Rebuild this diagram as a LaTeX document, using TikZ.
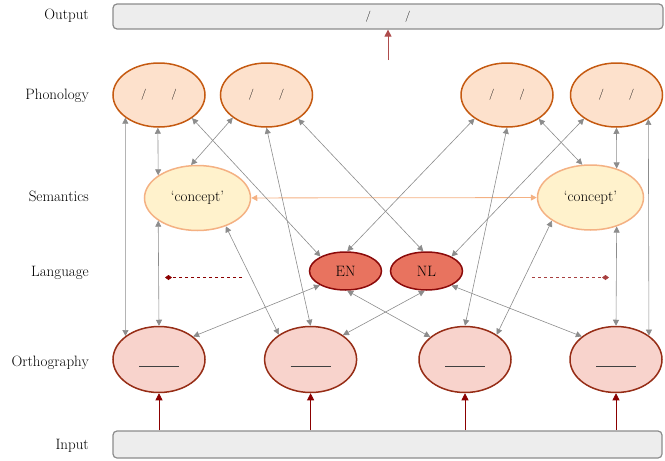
\documentclass[tikz,border=0pt]{standalone}
\usepackage{tikz}
\usetikzlibrary{arrows.meta, positioning, shapes}

\definecolor{phonfill}{HTML}{FDE1CC}
\definecolor{phondraw}{HTML}{C55A11}
\definecolor{semfill}{HTML}{FFF2CC}
\definecolor{semdraw}{HTML}{F4B183}
\definecolor{langfill}{HTML}{E8735F}
\definecolor{langdraw}{HTML}{8B0A0A}
\definecolor{orthfill}{HTML}{F8D3CC}
\definecolor{orthdraw}{HTML}{962D16}
\definecolor{boxfill}{HTML}{EDEDED}
\definecolor{boxdraw}{HTML}{8C8C8C}
\definecolor{linkgray}{HTML}{8C8C8C}
\definecolor{feedred}{HTML}{8B0000}

\newcommand{\ipaslots}[1]{{\fontsize{11}{13}\selectfont /\hspace{#1}/}}
\newcommand{\spelling}{\raisebox{-7pt}[0pt][0pt]{\color{black!75}\rule{40pt}{0.7pt}}}

\begin{document}
\begin{tikzpicture}[x=1pt, y=-1pt, font=\fontsize{15}{18}\selectfont]
            \tikzset{unit/.style={ellipse, inner sep=0pt, line width=1.5pt},
              phonode/.style={unit, draw=phondraw, fill=phonfill, minimum width=92pt, minimum height=64pt},
              semnode/.style={unit, draw=semdraw, fill=semfill, minimum width=106pt, minimum height=65pt},
              langnode/.style={unit, draw=langdraw, fill=langfill, minimum width=72pt, minimum height=38pt},
              orthnode/.style={unit, draw=orthdraw, fill=orthfill, minimum width=92pt, minimum height=66pt},
              layerbox/.style={rectangle, rounded corners=4pt, draw=boxdraw, fill=boxfill, line width=1.2pt, inner sep=0pt},
              layer/.style={anchor=east, inner sep=0pt, text height=10pt, text depth=3pt},
              link/.style={linkgray, line width=0.6pt, {Triangle[length=6pt,width=6pt]}-{Triangle[length=6pt,width=6pt]}},
              feed/.style={feedred, line width=0.8pt, -{Triangle[length=7pt,width=7pt]}},
              inhib/.style={feedred, dashed, line width=0.8pt, -{Diamond[length=7pt,width=5pt]}}}
            \useasboundingbox (0,0) rectangle (665,461);

            % layer names
            \node[layer] (lOut) at (89,16) {Output};
            \node[layer] (lPhon) at (89,96) {Phonology};
            \node[layer] (lSem) at (89,198) {Semantics};
            \node[layer] (lLang) at (89,273) {Language};
            \node[layer] (lOrth) at (89,363) {Orthography};
            \node[layer] (lIn) at (89,446) {Input};

            \node[layerbox, minimum width=550pt, minimum height=25pt] (out) at (388,16.5) {\ipaslots{34pt}};
            \node[layerbox, minimum width=549pt, minimum height=27pt] (in) at (387.5,444.5) {};

            \node[phonode] (P1) at (159,95) {\ipaslots{25pt}};
            \node[phonode] (P2) at (266.5,95) {\ipaslots{25pt}};
            \node[phonode] (P3) at (507,95) {\ipaslots{25pt}};
            \node[phonode] (P4) at (616.5,95) {\ipaslots{25pt}};

            \node[semnode] (S1) at (197.5,198) {`concept'};
            \node[semnode] (S2) at (590.5,197.5) {`concept'};

            \node[langnode] (EN) at (345.5,271) {EN};
            \node[langnode, right=7.5pt of EN] (NL) {NL};

            \node[orthnode] (O1) at (159,359.5) {\spelling};
            \node[orthnode] (O2) at (310.6,359.5) {\spelling};
            \node[orthnode] (O3) at (465,359.5) {\spelling};
            \node[orthnode] (O4) at (616,359.5) {\spelling};

            % input and output
            \foreach \o in {O1,O2,O3,O4}
              \draw[feed] (in.north -| \o.south) -- (\o.south);
            \coordinate (outsrc) at (388,60);
            \draw[feed, draw=feedred!70!white] (outsrc) -- (out.south);

            % semantics link
            \draw[semdraw, line width=0.8pt, {Triangle[length=6pt,width=6pt]}-{Triangle[length=6pt,width=6pt]}] (S1) -- (S2);

            % language inhibition
            \coordinate (inhL) at (242,277.5);
            \coordinate (inhLend) at (165,277.5);
            \coordinate (inhR) at (532,277.5);
            \coordinate (inhRend) at (609,277.5);
            \draw[inhib] (inhL) -- (inhLend);
            \draw[inhib, feedred!75!white] (inhR) -- (inhRend);

            % connections
            \draw[link] (P1.214) -- (O1.145);
            \draw[link] (P1.268) -- (S1.150);
            \draw[link] (S1.210) -- (O1.north);
            \draw[link] (P1.325) -- (EN.150);
            \draw[link] (S1.101) -- (P2.214);
            \draw[link] (S1.315) -- (O2.142);
            \draw[link] (P2.south) -- (O2.north);
            \draw[link] (P2.323) -- (NL.99);
            \draw[link] (P3.216) -- (EN.85);
            \draw[link] (P3.south) -- (O3.north);
            \draw[link] (P3.323) -- (S2.104);
            \draw[link] (P4.216) -- (NL.30);
            \draw[link] (P4.south) -- (S2.48);
            \draw[link] (P4.323) -- (O4.36);
            \draw[link] (S2.312) -- (O4.north);
            \draw[link] (S2.211) -- (O3.38);
            \draw[link] (EN.209) -- (O1.34);
            \draw[link] (EN.275) -- (O3.147);
            \draw[link] (NL.265) -- (O2.37);
            \draw[link] (NL.330) -- (O4.146);
        \end{tikzpicture}
\end{document}
